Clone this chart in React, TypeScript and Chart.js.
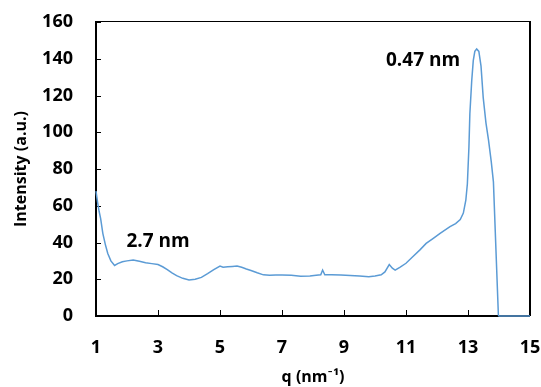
import { useEffect, useRef } from 'react';
import { Chart, registerables } from 'chart.js';

Chart.register(...registerables);

const qValues = [
  1.0, 1.05, 1.1, 1.15, 1.22, 1.3, 1.38, 1.48, 1.6, 1.7, 1.85, 2.0, 2.2, 2.4, 2.6, 2.8, 3.0,
  3.15, 3.3, 3.45, 3.6, 3.8, 4.0, 4.2, 4.4, 4.6, 4.8, 5.0, 5.1, 5.25, 5.4, 5.55, 5.7, 5.85,
  6.0, 6.2, 6.4, 6.6, 6.8, 7.0, 7.3, 7.6, 7.9, 8.1, 8.25, 8.31, 8.38, 8.6, 8.9, 9.2, 9.5,
  9.8, 10.0, 10.2, 10.32, 10.46, 10.56, 10.65, 10.8, 11.0, 11.2, 11.45, 11.65, 11.88, 12.1,
  12.42, 12.6, 12.75, 12.85, 12.93, 12.98, 13.03, 13.06, 13.12, 13.17, 13.22, 13.28, 13.35,
  13.42, 13.49, 13.58, 13.66, 13.75, 13.82, 13.98, 14.0, 14.5, 15.0,
];

const intensity = [
  68, 62, 57, 53, 45, 39, 34, 30, 27.5, 28.5, 29.5, 30, 30.5, 29.8, 29, 28.5, 28,
  26.8, 25.2, 23.5, 22, 20.5, 19.6, 20, 21, 23, 25.2, 27.2, 26.5, 26.8, 27, 27.2, 26.5, 25.6,
  24.8, 23.5, 22.4, 22.2, 22.3, 22.3, 22.2, 21.6, 21.8, 22.2, 22.4, 25, 22.4, 22.4, 22.3, 22, 21.8,
  21.4, 21.8, 22.4, 24, 28, 26, 25, 26.5, 28.7, 32, 36, 39.5, 42.3, 45,
  48.6, 50.3, 52.5, 56, 63, 72, 92, 110, 128, 139, 144, 145.3, 144,
  136, 119, 105, 96, 84, 73, 0.5, 0, 0, 0,
];

const xTickValues = [1, 3, 5, 7, 9, 11, 13, 15];
const yTickValues = [0, 20, 40, 60, 80, 100, 120, 140, 160];

const peakLabels = ['2.7 nm', '0.47 nm'];
const peakLabelQ = [3.0, 11.55];
const peakLabelI = [40.3, 139];

const FONT = '"Open Sans", Lato, sans-serif';

export default function App() {
  const ref = useRef<HTMLCanvasElement | null>(null);
  useEffect(() => {
    if (!ref.current) return;
    const framePlugin = {
      id: 'frameBeforeData',
      beforeDatasetsDraw(chart: any) {
        const ctx = chart.ctx;
        const a = chart.chartArea;
        const sx = chart.scales.x;
        const sy = chart.scales.y;
        const L = Math.round(a.left);
        const R = Math.round(a.right);
        const T = Math.round(a.top);
        const B = Math.round(a.bottom);
        ctx.save();
        ctx.globalAlpha = 1;
        ctx.globalCompositeOperation = 'source-over';
        ctx.fillStyle = '#000000';
        for (const v of xTickValues) {
          const x = Math.round(sx.getPixelForValue(v));
          ctx.fillRect(x, B - 6, 1, 6);
        }
        for (const v of yTickValues) {
          const y = Math.round(sy.getPixelForValue(v));
          ctx.fillRect(L, y, 5, 1);
        }
        ctx.fillRect(L, T - 1, R - L, 1);
        ctx.fillRect(R - 1, T - 1, 2, B - T + 1);
        ctx.fillRect(L - 1, T - 1, 2, B - T + 2);
        ctx.fillRect(L - 1, B - 1, R - L + 1, 2);
        ctx.restore();
      },
      afterDraw(chart: any) {
        const ctx = chart.ctx;
        const sx = chart.scales.x;
        const sy = chart.scales.y;
        ctx.save();
        ctx.fillStyle = '#000000';
        ctx.font = `bold 19px ${FONT}`;
        ctx.textAlign = 'center';
        ctx.textBaseline = 'middle';
        peakLabels.forEach((t, i) => {
          ctx.fillText(t, sx.getPixelForValue(peakLabelQ[i]), sy.getPixelForValue(peakLabelI[i]));
        });
        ctx.restore();
      },
    };
    const chart = new Chart(ref.current, {
      type: 'line',
      data: {
        datasets: [
          {
            data: qValues.map((q, i) => ({ x: q, y: intensity[i] })),
            borderColor: '#5B9BD5',
            borderWidth: 1.5,
            pointRadius: 0,
            tension: 0,
            fill: false,
            clip: 2,
          },
        ],
      },
      options: {
        animation: false,
        responsive: false,
        maintainAspectRatio: false,
        layout: { padding: { top: 22, right: 11, left: 0, bottom: 0 } },
        plugins: { legend: { display: false }, tooltip: { enabled: false } },
        scales: {
          x: {
            type: 'linear',
            min: 1,
            max: 15,
            afterBuildTicks: (s: any) => {
              s.ticks = xTickValues.map((v) => ({ value: v }));
            },
            afterFit: (s: any) => {
              s.height = 71;
              s.paddingLeft = 0;
              s.paddingRight = 0;
            },
            grid: { display: false, drawTicks: false },
            border: { display: false },
            ticks: {
              padding: 21,
              color: '#000',
              font: { family: FONT, size: 18, weight: 'bold' },
              maxRotation: 0,
              autoSkip: false,
            },
            title: {
              display: true,
              text: 'q (nm⁻¹)',
              color: '#000',
              font: { family: FONT, size: 16, weight: 'bold' },
              padding: { top: 0, bottom: 0 },
            },
          },
          y: {
            type: 'linear',
            min: 0,
            max: 160,
            afterBuildTicks: (s: any) => {
              s.ticks = yTickValues.map((v) => ({ value: v }));
            },
            afterFit: (s: any) => {
              s.width = 96;
              s.paddingTop = 0;
              s.paddingBottom = 0;
            },
            grid: { display: false, drawTicks: false },
            border: { display: false },
            ticks: {
              padding: 23,
              color: '#000',
              font: { family: FONT, size: 18, weight: 'bold' },
              autoSkip: false,
            },
            title: {
              display: true,
              text: 'Intensity (a.u.)',
              color: '#000',
              font: { family: FONT, size: 16, weight: 'bold' },
              padding: { top: 12, bottom: 0 },
            },
          },
        },
      },
      plugins: [framePlugin],
    } as any);
    return () => chart.destroy();
  }, []);
  return (
    <div style={{ position: 'absolute', left: 0, top: 0, width: 541, height: 387 }}>
      <canvas ref={ref} width={541} height={387} style={{ width: 541, height: 387 }} />
    </div>
  );
}
